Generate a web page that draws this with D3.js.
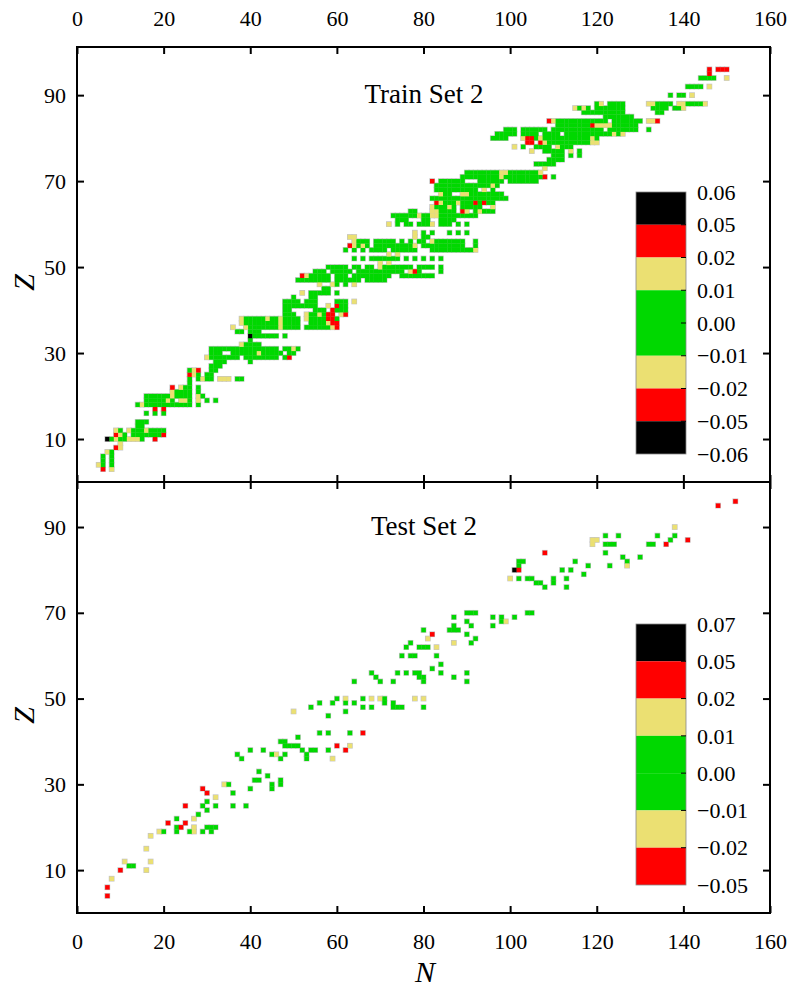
<!DOCTYPE html>
<html>
<head>
<meta charset="utf-8">
<script src="https://cdnjs.cloudflare.com/ajax/libs/d3/7.8.5/d3.min.js"></script>
<style>
  body { margin: 0; background: #fff; }
  text { font-family: "Liberation Serif", "Times New Roman", serif; fill: #000; }
</style>
</head>
<body>
<svg id="chart" width="794" height="987"></svg>
<script>
(function (d3) {
  'use strict';

  // Train Set 2: one entry per Z row, "N0:cells" where each char is one N
  // g = |dev| < 0.01, y = 0.01-0.02, r = 0.02-0.05, k = > 0.05, . = empty
  const trainRows = [
    [3, '6:r.y'],
    [4, '5:yg.g'],
    [5, '6:g.g'],
    [6, '6:g.g'],
    [7, '7:yg'],
    [8, '9:ry'],
    [9, '10:y'],
    [10, '7:kgyggyyyg 18:r'],
    [11, '9:ryg.gggggggr'],
    [12, '9:yg.ygggygggg'],
    [13, '14:gg'],
    [14, '14:ggg'],
    [16, '16:g.g.g'],
    [17, '18:r.r'],
    [18, '14:gyggggggggggg.g'],
    [19, '16:gggggyg.yyg.y.g.g'],
    [20, '16:ggggggygggg.yg'],
    [21, '22:ygggg.g'],
    [22, '22:r.ygg.g'],
    [23, '26:g'],
    [24, '26:g.gygg.yyy.gg'],
    [25, '26:ryg.gg'],
    [26, '26:gyr..gg'],
    [27, '31:ggg'],
    [28, '32:ggg.....g'],
    [29, '30:yggggggg.gggggggg.gr'],
    [30, '31:ggg..ggggggyggggg.gg'],
    [31, '31:gggggggggggggggg.ggyg'],
    [32, '38:ygggg'],
    [33, '40:g'],
    [34, '40:kgggggg.g'],
    [35, '37:gg.ggg'],
    [36, '36:y..ygggggggygggg.ggggggyr'],
    [37, '38:yggggggggygggg..ggggyrr'],
    [38, '38:ygggggyggygggg.yggggrrg'],
    [39, '48:ggg..yggygrr.yr'],
    [40, '48:gg.....ggg.rggg'],
    [41, '48:gggggggg..y.rgg'],
    [42, '48:gggg.ggg....ggg.y'],
    [43, '50:g...gg'],
    [44, '52:y.ggggg.g'],
    [45, '57:gg'],
    [46, '56:y..yg.g.y'],
    [47, '51:gggggggg.gggggg.ggggg'],
    [48, '52:ryggggg.ggg.ggggggggg..gggggggg'],
    [49, '55:ggg.ggggg.ggggggggggg.yrg....g'],
    [50, '58:ggggg.gg.gg.yggggggg.gggg.g'],
    [51, '70:y.y'],
    [52, '64:g.g.ggggggg.g.g.g.g.g'],
    [53, '72:y.y'],
    [54, '62:g.g.g.gggg.gggggg...ggggggggggy'],
    [55, '63:rygyg.gggggggggy.gggggggggg..g'],
    [56, '64:yggg.ggggg.g.g.gg.yggggggg..g'],
    [57, '63:yy 78:y.gg'],
    [58, '78:y.g.g...g.g.g'],
    [60, '72:y.g.gg.gggy.ggg.g.g'],
    [61, '74:ggg...gg..gggg'],
    [62, '73:ggggggyggyyggggggggg'],
    [63, '77:gg...yygggg.ry.gyggg'],
    [64, '82:ygggyg.ggggg..y'],
    [65, '83:rygggygggrgrgg'],
    [66, '82:gggggggggggggggggg'],
    [67, '84:ygg..yygggggggg'],
    [68, '83:gggggggggg.y.g'],
    [69, '83:gggggggggggggyg'],
    [70, '82:r.gggggg...gggggg.ggggggg'],
    [71, '89:gggggggggygggggggggr.g'],
    [72, '90:ggggggggyygggggggy'],
    [73, '108:y'],
    [74, '106:ggggg'],
    [75, '109:gggg'],
    [76, '110:ggg.g.g'],
    [77, '105:y..ggggg.y.g'],
    [78, '101:y.g..gggg.yggg'],
    [79, '104:rr.ryggggggggggyy'],
    [80, '96:gggg...yrrgygggggggggggyg'],
    [81, '97:ggggg.gggg.gggg.gggggggggggygy'],
    [82, '99:ggg.gggggg.gggggggggggg.ggggggg..g'],
    [83, '111:ggggggggryyyygggggg'],
    [84, '109:rygggggggggggg.ggggggg.yyr'],
    [85, '122:ggggggg'],
    [86, '117:gggggggggg 134:gg'],
    [87, '115:ygyg.ggggggg 133:gggg.ggy'],
    [88, '120:gy.gggg 132:yygggg.yyggggy'],
    [90, '137:g.gg.y'],
    [92, '141:gggg.y'],
    [94, '144:gggg..y'],
    [95, '146:r'],
    [96, '146:r.rrr']
  ];

  // Test Set 2: [N, Z, class]
  const testCells = [
    [7, 4, 'r'], [7, 6, 'r'], [8, 8, 'y'], [10, 10, 'r'], [11, 12, 'y'], [12, 11, 'g'], [13, 11, 'g'],
    [16, 10, 'y'], [17, 12, 'y'], [16, 15, 'y'], [17, 18, 'y'], [19, 19, 'y'], [20, 19, 'g'],
    [21, 21, 'r'], [23, 22, 'g'], [23, 19, 'g'], [23, 20, 'g'], [24, 20, 'r'], [25, 21, 'r'],
    [26, 19, 'g'], [27, 19, 'y'], [27, 20, 'y'], [27, 22, 'y'], [28, 23, 'g'], [29, 19, 'g'],
    [30, 20, 'g'], [31, 20, 'g'], [32, 20, 'g'], [31, 19, 'g'], [30, 24, 'g'], [29, 25, 'g'],
    [30, 26, 'g'], [32, 27, 'y'], [25, 25, 'r'], [29, 29, 'r'], [30, 28, 'r'], [34, 30, 'y'],
    [35, 30, 'g'], [32, 25, 'g'], [36, 28, 'g'], [36, 25, 'g'], [39, 25, 'g'], [40, 29, 'g'],
    [41, 31, 'g'], [42, 31, 'g'], [42, 33, 'g'], [44, 32, 'g'], [45, 29, 'g'], [45, 30, 'g'],
    [47, 30, 'g'], [47, 31, 'g'],
    [38, 36, 'g'], [37, 37, 'g'], [40, 38, 'g'], [43, 38, 'g'], [45, 37, 'g'], [46, 37, 'y'],
    [48, 37, 'g'], [47, 36, 'g'], [47, 40, 'g'], [48, 40, 'g'], [48, 39, 'g'], [49, 39, 'g'],
    [50, 39, 'g'], [51, 39, 'g'], [51, 41, 'g'], [52, 38, 'g'], [53, 37, 'g'], [53, 36, 'g'],
    [54, 38, 'g'], [55, 38, 'g'], [58, 38, 'g'], [59, 36, 'y'], [56, 42, 'g'], [58, 42, 'g'],
    [60, 39, 'r'], [62, 38, 'r'], [63, 39, 'y'], [63, 42, 'g'], [66, 42, 'r'],
    [50, 47, 'y'], [54, 48, 'g'], [56, 49, 'g'], [58, 46, 'g'], [59, 49, 'g'], [60, 50, 'g'],
    [62, 50, 'y'], [62, 49, 'g'], [62, 47, 'g'], [64, 49, 'g'], [66, 50, 'g'], [66, 48, 'g'],
    [68, 50, 'y'], [68, 48, 'g'], [70, 50, 'y'], [71, 50, 'g'], [71, 49, 'g'], [73, 49, 'g'],
    [73, 48, 'g'], [74, 48, 'g'], [75, 48, 'g'], [78, 50, 'y'], [80, 50, 'y'], [80, 48, 'g'],
    [64, 54, 'g'], [68, 56, 'g'], [69, 55, 'g'], [70, 54, 'g'], [73, 54, 'g'], [74, 56, 'g'],
    [76, 56, 'g'], [78, 56, 'g'], [79, 56, 'g'], [79, 55, 'g'], [80, 55, 'g'], [80, 54, 'g'],
    [82, 57, 'g'], [84, 58, 'g'], [84, 56, 'g'], [87, 55, 'g'], [90, 56, 'g'], [90, 54, 'g'],
    [75, 60, 'g'], [77, 60, 'g'], [78, 60, 'g'], [83, 60, 'g'], [76, 62, 'g'], [77, 63, 'g'],
    [79, 62, 'g'], [80, 62, 'g'], [81, 62, 'g'], [81, 64, 'y'], [83, 62, 'y'], [82, 65, 'r'],
    [80, 66, 'g'], [87, 63, 'y'], [87, 69, 'g'], [86, 66, 'g'], [87, 66, 'g'], [88, 66, 'g'],
    [87, 67, 'g'], [90, 65, 'g'], [91, 63, 'g'], [92, 64, 'g'], [90, 70, 'g'], [91, 70, 'g'],
    [92, 70, 'g'], [90, 68, 'g'], [91, 67, 'g'], [96, 69, 'g'], [96, 67, 'g'],
    [98, 69, 'g'], [98, 68, 'g'], [99, 68, 'y'], [101, 69, 'g'], [104, 70, 'g'], [105, 70, 'g'],
    [100, 78, 'y'], [102, 78, 'g'], [104, 78, 'g'], [105, 78, 'g'], [106, 77, 'g'], [107, 77, 'g'],
    [108, 76, 'g'], [110, 78, 'g'], [110, 77, 'g'], [113, 78, 'g'], [113, 76, 'g'],
    [102, 82, 'g'], [103, 82, 'g'], [102, 81, 'g'], [101, 80, 'k'], [102, 80, 'r'],
    [108, 84, 'r'], [112, 80, 'g'], [114, 80, 'g'], [115, 82, 'g'], [117, 79, 'g'], [118, 81, 'g'],
    [119, 87, 'y'], [120, 87, 'y'], [119, 86, 'y'], [122, 88, 'g'], [125, 88, 'g'], [122, 86, 'g'],
    [123, 86, 'g'], [124, 86, 'g'], [122, 84, 'g'], [123, 81, 'g'], [126, 83, 'g'], [127, 82, 'g'],
    [127, 81, 'y'], [130, 83, 'g'], [132, 86, 'g'], [133, 86, 'g'], [134, 88, 'g'], [137, 87, 'g'],
    [138, 88, 'g'], [138, 90, 'y'], [136, 86, 'r'], [141, 87, 'r'], [148, 95, 'r'], [152, 96, 'r']
  ];

  const nTicks = [0, 20, 40, 60, 80, 100, 120, 140, 160];
  const zTicks = [10, 30, 50, 70, 90];

  const trainBarLabels = ['0.06', '0.05', '0.02', '0.01', '0.00', '\u22120.01', '\u22120.02', '\u22120.05', '\u22120.06'];
  const trainBarClasses = ['k', 'r', 'y', 'g', 'g', 'y', 'r', 'k'];
  const testBarLabels = ['0.07', '0.05', '0.02', '0.01', '0.00', '\u22120.01', '\u22120.02', '\u22120.05'];
  const testBarClasses = ['k', 'r', 'y', 'g', 'g', 'y', 'r'];

  // representative deviation for each class
  const classValue = { g: 0.005, y: 0.015, r: 0.035, k: 0.055 };
  const color = d3.scaleThreshold()
    .domain([0.01, 0.02, 0.05])
    .range(['#00d800', '#ebe072', '#ff0000', '#000000']);

  const parseRows = (rows) => {
    const cells = [];
    rows.forEach(([z, str]) => {
      str.split(' ').forEach((seg) => {
        const [n0, chars] = seg.split(':');
        [...chars].forEach((c, i) => {
          if (c !== '.') cells.push({ n: +n0 + i, z, v: classValue[c] });
        });
      });
    });
    return cells;
  };

  const trainCells = parseRows(trainRows);
  const testData = testCells.map(([n, z, c]) => ({ n, z, v: classValue[c] }));

  const svg = d3.select('#chart');
  const left = 77;
  const right = 770;

  const x = d3.scaleLinear().domain([0, 160]).range([left, right]);

  const panels = [
    { title: 'Train Set 2', cells: trainCells, top: 47, bottom: 482, zMax: 101.2,
      titleY: 103, barTop: 192, barBottom: 454, labels: trainBarLabels, classes: trainBarClasses },
    { title: 'Test Set 2', cells: testData, top: 482, bottom: 913, zMax: 100.5,
      titleY: 535, barTop: 624, barBottom: 885, labels: testBarLabels, classes: testBarClasses }
  ];

  panels.forEach((p, pi) => {
    const y = d3.scaleLinear().domain([0, p.zMax]).range([p.bottom, p.top]);
    const g = svg.append('g');
    const cw = x(1) - x(0);
    const ch = y(0) - y(1);

    // soft grey halo first, so only the outer edge of each block shows it
    g.selectAll('rect.halo')
      .data(p.cells)
      .enter()
      .append('rect')
      .attr('class', 'halo')
      .attr('x', (d) => x(d.n - 0.5) - 0.7)
      .attr('y', (d) => y(d.z + 0.5) - 0.7)
      .attr('width', cw + 1.4)
      .attr('height', ch + 1.4)
      .attr('fill', '#c4c4c4');

    g.selectAll('rect.cell')
      .data(p.cells)
      .enter()
      .append('rect')
      .attr('class', 'cell')
      .attr('x', (d) => x(d.n - 0.5))
      .attr('y', (d) => y(d.z + 0.5))
      .attr('width', cw + 0.2)
      .attr('height', ch + 0.2)
      .attr('fill', (d) => color(Math.abs(d.v)));

    // axes, ticks pointing inward
    const leftAxis = g.append('g')
      .attr('transform', `translate(${left},0)`)
      .call(d3.axisLeft(y).tickValues(zTicks).tickSize(-7).tickSizeOuter(0).tickPadding(11));
    leftAxis.selectAll('text').style('font-size', '22px');

    g.append('g')
      .attr('transform', `translate(${right},0)`)
      .call(d3.axisRight(y).tickValues(zTicks).tickSize(-7).tickSizeOuter(0).tickFormat(''));

    const topAxis = g.append('g')
      .attr('transform', `translate(0,${p.top})`)
      .call(d3.axisTop(x).tickValues(nTicks).tickSize(-7).tickSizeOuter(0).tickPadding(21)
        .tickFormat(pi === 0 ? d3.format('d') : ''));
    topAxis.selectAll('text').style('font-size', '22px');

    const bottomAxis = g.append('g')
      .attr('transform', `translate(0,${p.bottom})`)
      .call(d3.axisBottom(x).tickValues(nTicks).tickSize(-7).tickSizeOuter(0).tickPadding(20)
        .tickFormat(pi === 1 ? d3.format('d') : ''));
    bottomAxis.selectAll('text').style('font-size', '22px');

    g.selectAll('.domain').remove();
    g.selectAll('.tick line').attr('stroke', '#000').attr('stroke-width', 2);

    g.append('rect')
      .attr('x', left)
      .attr('y', p.top)
      .attr('width', right - left)
      .attr('height', p.bottom - p.top)
      .attr('fill', 'none')
      .attr('stroke', '#000')
      .attr('stroke-width', 2);

    g.append('text')
      .attr('x', 424)
      .attr('y', p.titleY)
      .attr('text-anchor', 'middle')
      .style('font-size', '27px')
      .text(p.title);

    // Z axis title, rotated
    g.append('text')
      .attr('transform', `translate(34,${(p.top + p.bottom) / 2 + 18}) rotate(-90)`)
      .attr('text-anchor', 'middle')
      .style('font-size', '30px')
      .style('font-style', 'italic')
      .text('Z');

    // colour bar
    const bar = d3.scaleLinear().domain([0, p.classes.length]).range([p.barTop, p.barBottom]);
    const bx = 636;
    const bw = 50;
    g.selectAll('rect.seg')
      .data(p.classes)
      .enter()
      .append('rect')
      .attr('class', 'seg')
      .attr('x', bx)
      .attr('y', (d, i) => bar(i))
      .attr('width', bw)
      .attr('height', (d, i) => bar(i + 1) - bar(i))
      .attr('fill', (d) => color(classValue[d]));

    g.append('rect')
      .attr('x', bx)
      .attr('y', p.barTop)
      .attr('width', bw)
      .attr('height', p.barBottom - p.barTop)
      .attr('fill', 'none')
      .attr('stroke', '#888')
      .attr('stroke-width', 0.8);

    g.selectAll('line.btick')
      .data(p.labels.slice(1, -1))
      .enter()
      .append('line')
      .attr('class', 'btick')
      .attr('x1', bx + bw - 5)
      .attr('x2', bx + bw)
      .attr('y1', (d, i) => bar(i + 1))
      .attr('y2', (d, i) => bar(i + 1))
      .attr('stroke', '#000')
      .attr('stroke-width', 1);

    g.selectAll('text.blab')
      .data(p.labels)
      .enter()
      .append('text')
      .attr('class', 'blab')
      .attr('x', 697)
      .attr('y', (d, i) => bar(i))
      .attr('dy', '0.35em')
      .style('font-size', '22px')
      .text((d) => d);
  });

  svg.append('text')
    .attr('x', 425)
    .attr('y', 982)
    .attr('text-anchor', 'middle')
    .style('font-size', '30px')
    .style('font-style', 'italic')
    .text('N');

}(d3));
</script>
</body>
</html>
